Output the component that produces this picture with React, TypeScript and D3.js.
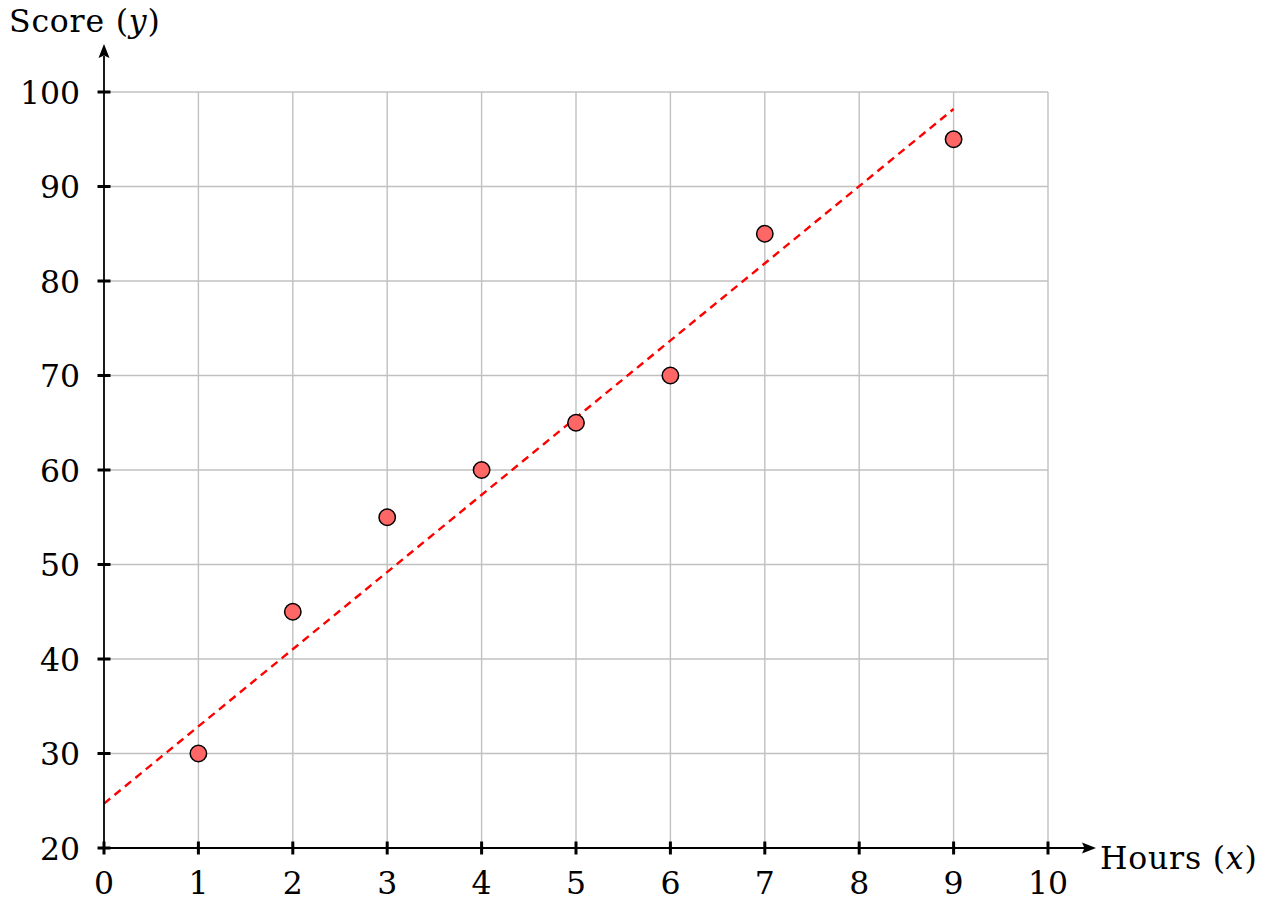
import React from "react";
import * as d3 from "d3";

const hours = [1, 2, 3, 4, 5, 6, 7, 9];
const scores = [30, 45, 55, 60, 65, 70, 85, 95];
const xTicks = [0, 1, 2, 3, 4, 5, 6, 7, 8, 9, 10];
const yTicks = [20, 30, 40, 50, 60, 70, 80, 90, 100];
const trendX = [0, 9];
const trendY = [24.7, 98.2];

const W = 1273;
const H = 903;
const FONT = "'DejaVu Serif', serif";
const FS = 31.5;

export default function App() {
  const x = d3.scaleLinear().domain([0, 10]).range([104, 1048]);
  const y = d3.scaleLinear().domain([20, 100]).range([848, 92]);
  const x0 = x(0);
  const y0 = y(20);
  const line = d3
    .line<number>()
    .x((_, i) => x(trendX[i]))
    .y((d) => y(d));

  return (
    <svg
      width={W}
      height={H}
      style={{ position: "absolute", left: 0, top: 0, background: "#fff" }}
    >
      <g>
        {xTicks.slice(1).map((t) => (
          <line key={"gx" + t} x1={x(t)} x2={x(t)} y1={y(20)} y2={y(100)} stroke="#c0c0c0" strokeWidth={1.4} />
        ))}
        {yTicks.slice(1).map((t) => (
          <line key={"gy" + t} x1={x(0)} x2={x(10)} y1={y(t)} y2={y(t)} stroke="#c0c0c0" strokeWidth={1.4} />
        ))}
      </g>
      <path d={line(trendY) || ""} fill="none" stroke="#ff0000" strokeWidth={2.4} strokeDasharray="8,5.5" />
      {/* axes */}
      <line x1={x0} x2={1086} y1={y0} y2={y0} stroke="#000" strokeWidth={1.8} />
      <path d={`M1096,${y0} L1082,${y0 - 5.5} L1084.5,${y0} L1082,${y0 + 5.5} Z`} fill="#000" />
      <line x1={x0} x2={x0} y1={y0} y2={56} stroke="#000" strokeWidth={1.8} />
      <path d={`M${x0},44 L${x0 - 5.5},58 L${x0},55.5 L${x0 + 5.5},58 Z`} fill="#000" />
      {xTicks.map((t) => (
        <line key={"tx" + t} x1={x(t)} x2={x(t)} y1={y0 - 6.5} y2={y0 + 6.5} stroke="#000" strokeWidth={3} />
      ))}
      {yTicks.map((t) => (
        <line key={"ty" + t} x1={x0 - 6.5} x2={x0 + 6.5} y1={y(t)} y2={y(t)} stroke="#000" strokeWidth={3} />
      ))}
      {xTicks.map((t) => (
        <text key={"lx" + t} x={x(t)} y={894} textAnchor="middle" fontFamily={FONT} fontSize={FS} fill="#000">
          {t}
        </text>
      ))}
      {yTicks.map((t) => (
        <text key={"ly" + t} x={80} y={y(t) + 11.5} textAnchor="end" fontFamily={FONT} fontSize={FS} fill="#000">
          {t}
        </text>
      ))}
      {hours.map((h, i) => (
        <circle key={"p" + i} cx={x(h)} cy={y(scores[i])} r={8.2} fill="#ff6666" stroke="#000" strokeWidth={1.5} />
      ))}
      <text x={9} y={32} fontFamily={FONT} fontSize={FS} fill="#000" letterSpacing={0.8}>
        Score (<tspan fontStyle="italic">y</tspan>)
      </text>
      <text x={1100} y={869} fontFamily={FONT} fontSize={FS} fill="#000" letterSpacing={0.8}>
        Hours (<tspan fontStyle="italic">x</tspan>)
      </text>
    </svg>
  );
}
